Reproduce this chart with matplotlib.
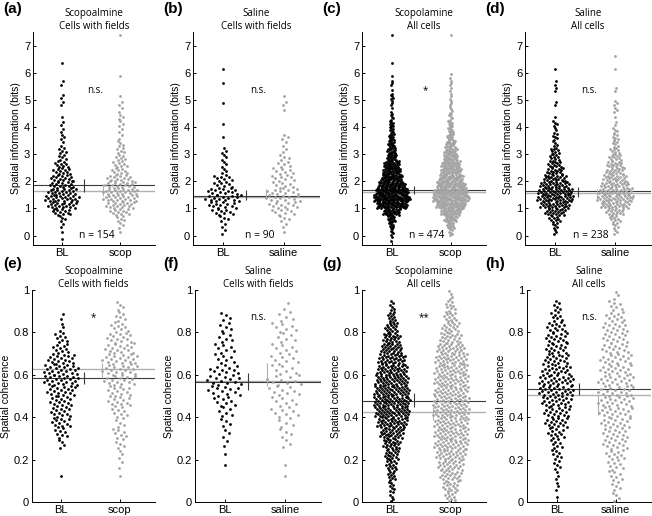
import numpy as np
import matplotlib.pyplot as plt

plt.rcParams['font.family'] = ['Liberation Sans', 'DejaVu Sans']

# spatial information: counts per 0.25-bit bin, first bin starts at -0.25
si_lo = -0.25
si_step = 0.25
a_bl = [1,1,2,4,12,18,22,18,15,14,11,9,5,5,2,3,2,2,1,0,2,2,0,2,0,0,1]
a_scop = [0,1,3,5,11,16,19,19,17,14,9,8,6,5,4,2,2,3,3,2,2,1,0,0,1,0,0,0,0,0,1]
b_bl = [0,2,2,4,9,12,15,13,8,8,3,3,3,3,0,1,0,1,0,0,1,0,0,1,0,1]
b_sal = [0,1,2,4,8,10,12,11,7,8,7,5,4,2,2,3,0,0,0,1,2,1]
c_bl = [2,5,8,14,30,55,65,58,48,38,32,28,18,15,12,10,7,7,5,2,3,5,1,3,1,0,1,0,0,0,1]
c_scop = [0,6,12,20,32,46,57,52,44,38,32,30,22,20,15,10,8,7,5,4,3,3,2,3,2,0,0,0,0,0,1]
d_bl = [0,3,5,10,18,26,32,30,26,20,15,12,9,8,4,5,3,4,1,0,2,0,2,2,0,1]
d_sal = [0,3,5,9,15,25,31,28,24,20,16,14,11,8,6,6,4,2,1,3,3,0,2,0,0,1,0,1]

# spatial coherence: counts per 0.05 bin, first bin starts at 0
sc_lo = 0.0
sc_step = 0.05
e_bl = [0,0,1,0,0,4,8,12,13,14,18,22,22,17,10,8,3,2]
e_scop = [0,0,1,2,3,5,7,5,8,12,12,16,18,18,15,13,9,6,4]
f_bl = [0,0,0,1,1,2,3,4,6,8,12,13,11,7,7,6,5,4]
f_sal = [0,0,1,1,0,3,4,5,8,7,9,10,7,8,7,6,7,5,2]
g_bl = [5,7,10,14,18,22,30,38,44,46,45,42,38,34,27,22,16,10,6]
g_scop = [10,15,20,24,28,32,32,32,34,34,32,32,31,30,27,20,16,12,9,4]
h_bl = [1,3,3,5,7,8,12,16,18,21,25,25,20,17,15,15,13,8,6]
h_sal = [4,5,7,8,10,13,13,15,17,18,18,18,16,16,14,13,13,10,7,3]

# means and error bars (low, high)
si_mean_bl = [1.85, 1.44, 1.69, 1.63]
si_mean_drug = [1.65, 1.42, 1.59, 1.56]
si_err_bl = [(1.59, 2.07), (1.30, 1.67), (1.54, 1.83), (1.42, 1.79)]
si_err_drug = [(1.44, 1.89), (1.41, 1.70), (1.50, 1.66), (1.36, 1.72)]
sc_mean_bl = [0.586, 0.567, 0.477, 0.535]
sc_mean_drug = [0.627, 0.570, 0.423, 0.504]
sc_err_bl = [(0.555, 0.611), (0.528, 0.607), (0.450, 0.512), (0.505, 0.560)]
sc_err_drug = [(0.583, 0.654), (0.545, 0.654), (0.387, 0.450), (0.410, 0.504)]

titles = ["Scopoalmine\nCells with fields", "Saline\nCells with fields",
          "Scopolamine\nAll cells", "Saline\nAll cells"]
drug_names = ["scop", "saline", "scop", "saline"]
n_cells = [154, 90, 474, 238]
si_sig = ["n.s.", "n.s.", "*", "n.s."]
sc_sig = ["*", "n.s.", "**", "n.s."]
letters = ["(a)", "(b)", "(c)", "(d)", "(e)", "(f)", "(g)", "(h)"]

BLACK = 'k'
GREY = '#a3a3a3'
DARKLINE = '#3a3a3a'
LIGHTLINE = '#b0b0b0'
MS = 4


def spread(counts, lo, step, center, hw_max=0.31):
    kmax = max(counts)
    xs, ys = [], []
    for i, k in enumerate(counts):
        if k == 0:
            continue
        hw = hw_max * k / kmax
        j = np.arange(k)
        ys.append(lo + i*step + (j + 0.5) / k * step)
        if k == 1:
            xs.append(np.array([center]))
        else:
            xs.append(center + hw * (2 * ((j * 0.618034 + 0.31) % 1) - 1))
    return np.concatenate(xs), np.concatenate(ys)


W, H = 652, 516
fig = plt.figure(figsize=(W/100, H/100), dpi=100)

top_left = [33, 193, 362, 525]
top_right = [155, 320, 486, 651]
bot_left = [32, 195, 362, 527]
bot_right = [155, 321, 486, 651]
label_x = [3, 163, 322, 485]

top_data = [(a_bl, a_scop), (b_bl, b_sal), (c_bl, c_scop), (d_bl, d_sal)]
bot_data = [(e_bl, e_scop), (f_bl, f_sal), (g_bl, g_scop), (h_bl, h_sal)]


def style(ax, ylim, yticks, ylabel, drug):
    ax.set_xlim(0.5, 2.6)
    ax.set_ylim(*ylim)
    ax.set_yticks(yticks)
    ax.set_xticks([1, 2])
    ax.set_xticklabels(["BL", drug])
    for s in ['top', 'right']:
        ax.spines[s].set_visible(False)
    for s in ['left', 'bottom']:
        ax.spines[s].set_linewidth(0.7)
    ax.tick_params(direction='in', length=2.5, width=0.7, labelsize=8, pad=2)
    ax.set_ylabel(ylabel, fontsize=7.5, labelpad=2)


for p in range(4):
    # top row
    l, r = top_left[p], top_right[p]
    ax = fig.add_axes([l/W, 1 - 245/H, (r-l)/W, (245-32)/H])
    xb, yb = spread(top_data[p][0], si_lo, si_step, 1)
    xd, yd = spread(top_data[p][1], si_lo, si_step, 2)
    ax.scatter(xb, yb, s=MS, c=BLACK, linewidths=0, zorder=3)
    ax.scatter(xd, yd, s=MS, c=GREY, linewidths=0, zorder=3)
    ax.axhline(si_mean_drug[p], color=LIGHTLINE, lw=1.0, zorder=2)
    ax.axhline(si_mean_bl[p], color=DARKLINE, lw=0.8, zorder=2)
    ax.vlines(1.38, *si_err_bl[p], color=DARKLINE, lw=0.8)
    ax.vlines(1.70, *si_err_drug[p], color=LIGHTLINE, lw=0.8)
    style(ax, (-0.35, 7.5), range(8), "Spatial information (bits)", drug_names[p])
    ax.set_title(titles[p], fontsize=7, family='Open Sans', pad=2, linespacing=1.2)
    ax.text(1.57, 5.33, si_sig[p], fontsize=7, family='Open Sans', ha='center', va='center')
    ax.text(1.6, 0.0, "n = %d" % n_cells[p], fontsize=7.5, family='Open Sans',
            ha='center', va='center')
    fig.text(label_x[p]/W, 1 - 2/H, letters[p], fontsize=11, fontweight='bold', va='top')

    # bottom row
    l, r = bot_left[p], bot_right[p]
    ax = fig.add_axes([l/W, 1 - 502/H, (r-l)/W, (502-290)/H])
    xb, yb = spread(bot_data[p][0], sc_lo, sc_step, 1)
    xd, yd = spread(bot_data[p][1], sc_lo, sc_step, 2)
    ax.scatter(xb, yb, s=MS, c=BLACK, linewidths=0, zorder=3)
    ax.scatter(xd, yd, s=MS, c=GREY, linewidths=0, zorder=3)
    ax.axhline(sc_mean_drug[p], color=LIGHTLINE, lw=1.0, zorder=2)
    ax.axhline(sc_mean_bl[p], color=DARKLINE, lw=0.8, zorder=2)
    ax.vlines(1.38, *sc_err_bl[p], color=DARKLINE, lw=0.8)
    ax.vlines(1.70, *sc_err_drug[p], color=LIGHTLINE, lw=0.8)
    style(ax, (0, 1), [0, 0.2, 0.4, 0.6, 0.8, 1], "Spatial coherence", drug_names[p])
    ax.set_yticklabels(["0", "0.2", "0.4", "0.6", "0.8", "1"])
    ax.set_title(titles[p], fontsize=7, family='Open Sans', pad=2, linespacing=1.2)
    ax.text(1.55, 0.87, sc_sig[p], fontsize=7, family='Open Sans', ha='center', va='center')
    fig.text(label_x[p]/W, 1 - 257/H, letters[p+4], fontsize=11, fontweight='bold', va='top')

fig.savefig("out.png", dpi=100)
